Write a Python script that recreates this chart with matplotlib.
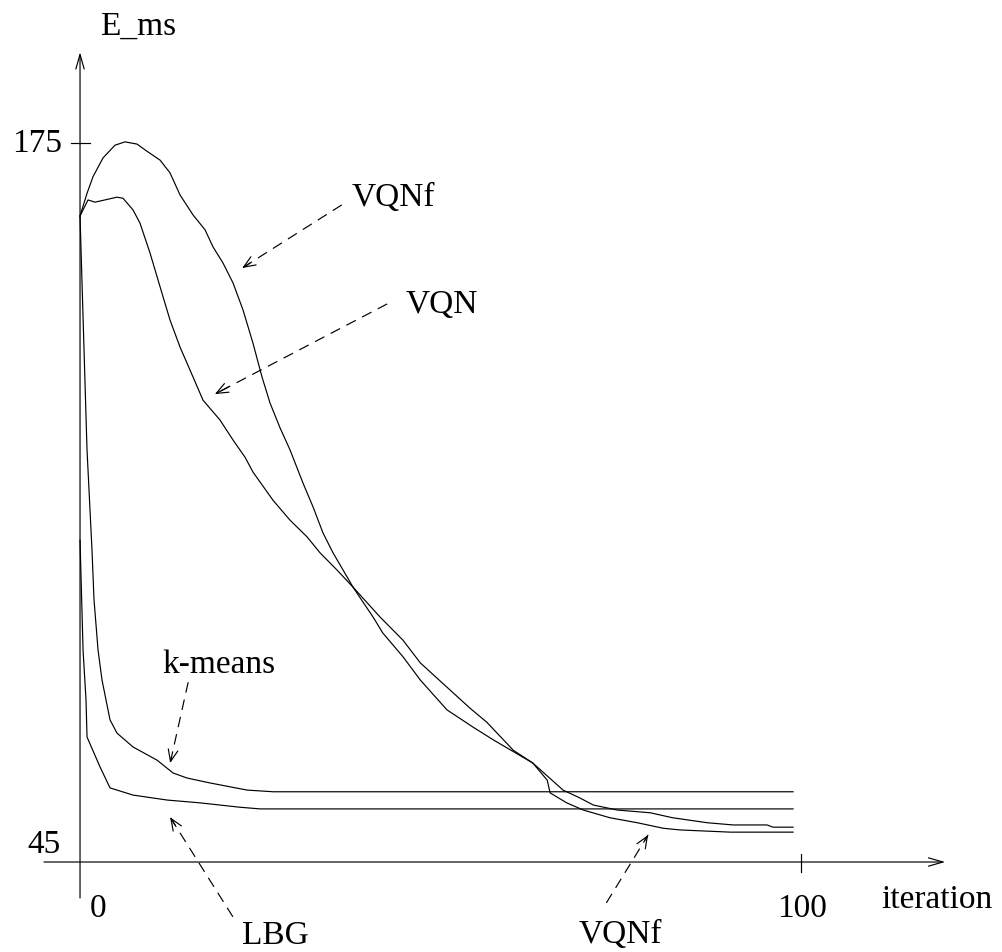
import numpy as np
import matplotlib
matplotlib.use("Agg")
import matplotlib.pyplot as plt

plt.rcParams['font.family'] = ['Liberation Serif', 'DejaVu Serif']

# curves (iteration, E_ms)
vqnf_x = [0, 0.97, 1.80, 3.19, 4.85, 6.24, 7.91, 9.29, 11.1, 12.48, 13.87, 15.67, 17.34,
          18.45, 19.83, 21.22, 22.61, 23.99, 25.24, 26.35, 27.74, 29.13, 30.93, 32.32,
          33.70, 35.09, 36.48, 37.86, 40.64, 42.0, 44.8, 47.2, 50.9, 54.5, 57.3, 62.8,
          64.8, 65.2, 67.5, 69.8, 73.5, 77.3, 80.9, 83.2, 90.2, 98.9]
vqnf_y = [161.8, 165.9, 168.9, 172.3, 174.6, 175.2, 174.8, 173.5, 171.9, 169.6, 165.6,
          162.0, 159.3, 156.2, 153.3, 149.7, 144.8, 138.8, 132.7, 128.0, 123.5, 119.5,
          113.5, 109.2, 104.5, 100.9, 97.8, 94.7, 89.3, 86.4, 82.1, 77.9, 72.5, 69.4,
          67.1, 62.9, 59.8, 57.5, 55.7, 54.4, 53.0, 52.1, 51.1, 50.8, 50.4, 50.4]

vqn_x = [0, 1.11, 2.08, 5.13, 5.96, 7.35, 8.32, 9.71, 11.1, 12.48, 13.87, 15.67, 17.06,
         19.42, 21.22, 22.88, 23.99, 26.77, 29.13, 31.48, 33.29, 35.64, 37.86, 41.61,
         44.8, 47.2, 50.9, 54.1, 56.4, 60.1, 62.8, 67.0, 69.3, 71.2, 74.5, 79.1, 82.2,
         87.0, 90.6, 95.3, 96.1, 98.9]
vqn_y = [161.8, 164.7, 164.3, 165.2, 165.0, 162.9, 160.5, 155.1, 149.0, 143.0, 138.1,
         132.7, 128.5, 124.9, 121.3, 118.2, 115.5, 110.4, 106.8, 103.8, 100.9, 97.8,
         94.7, 89.3, 85.1, 81.0, 76.6, 72.8, 70.3, 65.2, 62.9, 58.0, 56.6, 55.3, 54.4,
         53.9, 53.0, 52.1, 51.7, 51.7, 51.3, 51.3]

kmeans_x = [0, 0.97, 1.66, 1.94, 2.50, 3.05, 4.16, 5.13, 7.35, 10.7, 12.9, 14.8, 18.0,
            23.2, 26.8, 98.9]
kmeans_y = [161.8, 119.5, 101.4, 92.4, 83.3, 77.9, 70.7, 68.3, 65.8, 63.4, 61.1, 60.2,
            59.3, 58.0, 57.7, 57.7]

lbg_x = [0, 0.42, 0.83, 0.97, 2.77, 4.16, 7.35, 12.1, 16.6, 22.2, 25.0, 98.9]
lbg_y = [103.2, 83.3, 74.3, 67.6, 62.2, 58.4, 57.1, 56.2, 55.7, 54.9, 54.6, 54.6]

# labels: (text, x, y, arrow start, arrow tip)
labels = [
    ("VQNf", 37.7, 163.6, (36.3, 163.8), (22.5, 152.4)),
    ("VQN", 45.1, 144.3, (42.6, 145.9), (18.7, 129.6)),
    ("k-means", 11.4, 79.2, (15.0, 77.5), (12.5, 62.9)),
    ("LBG", 22.5, 30.1, (21.2, 35.1), (12.5, 53.1)),
    ("VQNf", 69.1, 30.3, (73.0, 37.6), (78.8, 49.9)),
]

fig = plt.figure(figsize=(10.02, 9.52), dpi=100)
ax = fig.add_axes([0, 0, 1, 1])
ax.set_xlim(-11.10, 127.88)
ax.set_ylim(28.73, 200.85)
ax.axis('off')

fs = 24
lw = 0.85

# axes with arrows
axis_head = dict(arrowstyle='->,head_length=1.05,head_width=0.3', lw=lw, color='black',
                 shrinkA=0, shrinkB=0)
ax.annotate('', xy=(120.0, 45), xytext=(-5.0, 45), arrowprops=axis_head)
ax.annotate('', xy=(0, 191.4), xytext=(0, 38.5), arrowprops=axis_head)
ax.plot([-1.25, 1.39], [175, 175], color='black', lw=lw)
ax.plot([100, 100], [46.45, 43.2], color='black', lw=lw)

ax.text(2.77, 194.5, "E_ms", fontsize=fs, ha='left', va='baseline')
ax.text(-9.43, 173.4, "175", fontsize=fs, ha='left', va='baseline')
ax.text(-7.35, 46.6, "45", fontsize=fs, ha='left', va='baseline')
ax.text(1.39, 35.06, "0", fontsize=fs, ha='left', va='baseline')
ax.text(96.67, 35.06, "100", fontsize=fs, ha='left', va='baseline')
ax.text(111.2, 36.7, "iteration", fontsize=fs, ha='left', va='baseline')

for xs, ys in [(vqnf_x, vqnf_y), (vqn_x, vqn_y), (kmeans_x, kmeans_y), (lbg_x, lbg_y)]:
    ax.plot(xs, ys, color='black', lw=lw)

head = dict(arrowstyle='->,head_length=0.85,head_width=0.35', lw=lw, color='black',
            shrinkA=0, shrinkB=0)
for txt, tx, ty, start, tip in labels:
    ax.text(tx, ty, txt, fontsize=fs, ha='left', va='baseline')
    ax.plot([start[0], tip[0]], [start[1], tip[1]], color='black', lw=lw,
            linestyle=(0, (9, 6)))
    back = (tip[0] + 0.08 * (start[0] - tip[0]), tip[1] + 0.08 * (start[1] - tip[1]))
    ax.annotate('', xy=tip, xytext=back, arrowprops=head)

fig.savefig('out.png', dpi=100)
